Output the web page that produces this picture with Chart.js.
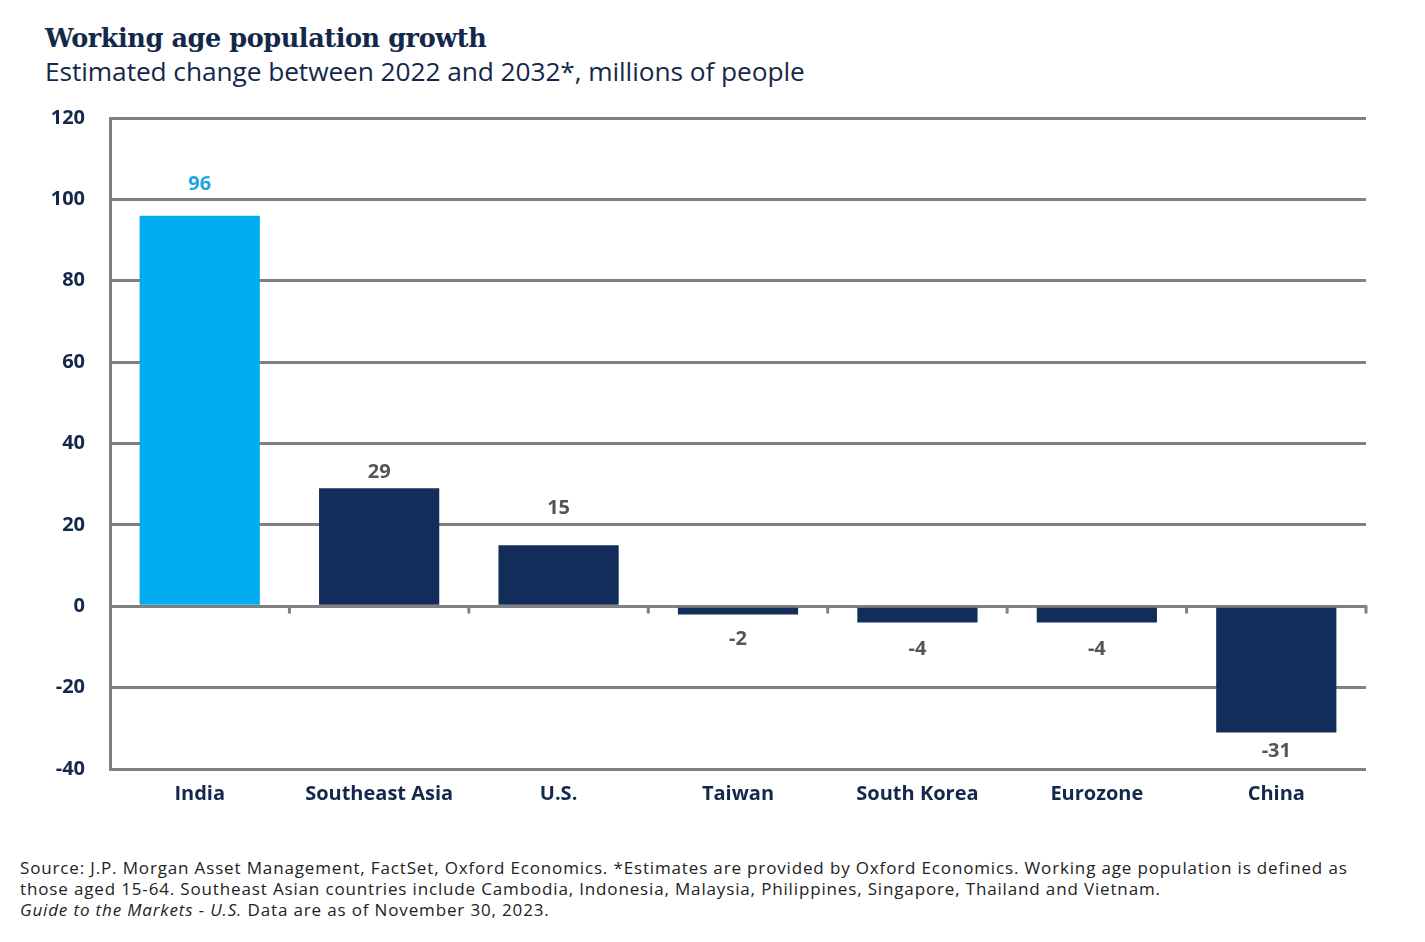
<!DOCTYPE html>
<html>
<head>
<meta charset="utf-8">
<script src="https://cdn.jsdelivr.net/npm/chart.js@4.4.1/dist/chart.umd.min.js"></script>
<style>
  html, body { margin: 0; padding: 0; background: #fff; }
  body { width: 1425px; height: 942px; position: relative; overflow: hidden; font-family: "Open Sans", Lato, sans-serif; }
  #title { position: absolute; left: 45px; top: 23px; font-family: "DejaVu Serif", serif; font-weight: bold; font-size: 25.5px; color: #14284b; letter-spacing: -0.4px; }
  #subtitle { position: absolute; left: 45px; top: 53px; font-size: 26.3px; color: #14284b; letter-spacing: -0.08px; }
  #chartBox { position: absolute; left: 0; top: 81px; width: 1425px; height: 739px; }
  #notes { position: absolute; left: 20px; top: 857px; font-size: 17px; line-height: 21px; color: #222; letter-spacing: 0.85px; white-space: nowrap; }
</style>
</head>
<body>
<div id="title">Working age population growth</div>
<div id="subtitle">Estimated change between 2022 and 2032*, millions of people</div>
<div id="chartBox"><canvas id="c"></canvas></div>
<div id="notes">
  Source: J.P. Morgan Asset Management, FactSet, Oxford Economics. *Estimates are provided by Oxford Economics. Working age population is defined as<br>
  those aged 15-64. Southeast Asian countries include Cambodia, Indonesia, Malaysia, Philippines, Singapore, Thailand and Vietnam.<br>
  <i>Guide to the Markets - U.S.</i> Data are as of November 30, 2023.
</div>
<script>
// data
const regions = ['India', 'Southeast Asia', 'U.S.', 'Taiwan', 'South Korea', 'Eurozone', 'China'];
const growth = [96, 29, 15, -2, -4, -4, -31];
const yTicks = [120, 100, 80, 60, 40, 20, 0, -20, -40];

const NAVY = '#132d5a';
const SKY = '#00aeef';
const GRID = '#808080';
const FONT = '"Open Sans", Lato, sans-serif';

// value labels + little tick marks under the zero line
const barLabels = {
  id: 'barLabels',
  afterDatasetsDraw(chart, args, opts) {
    const ctx = chart.ctx;
    const meta = chart.getDatasetMeta(0);
    const x = chart.scales.x, y = chart.scales.y;
    const y0 = y.getPixelForValue(0);
    ctx.save();
    // zero line ticks at category edges
    ctx.strokeStyle = GRID;
    ctx.lineWidth = 3;
    ctx.lineCap = 'round';
    const step = (x.right - x.left) / regions.length;
    for (let i = 1; i <= regions.length; i++) {
      const px = x.left + step * i;
      ctx.beginPath();
      ctx.moveTo(px, y0);
      ctx.lineTo(px, y0 + 6);
      ctx.stroke();
    }
    ctx.font = 'bold 20px ' + FONT;
    ctx.textAlign = 'center';
    ctx.textBaseline = 'middle';
    meta.data.forEach((bar, i) => {
      const v = growth[i];
      ctx.fillStyle = i === 0 ? '#1aa7e0' : '#555555';
      const off = opts.offsets[i];
      const py = v >= 0 ? bar.y - off : bar.y + off;
      ctx.fillText(String(v), bar.x, py);
    });
    ctx.restore();
  }
};

new Chart(document.getElementById('c'), {
  type: 'bar',
  data: {
    labels: regions,
    datasets: [{
      data: growth,
      backgroundColor: regions.map((r, i) => i === 0 ? SKY : NAVY),
      borderWidth: 0,
      barPercentage: 0.67,
      categoryPercentage: 1.0
    }]
  },
  options: {
    responsive: true,
    maintainAspectRatio: false,
    animation: false,
    layout: { padding: { left: 0, right: 59, top: 17, bottom: 0 } },
    plugins: {
      legend: { display: false },
      tooltip: { enabled: false },
      barLabels: { offsets: [31, 16, 37, 25, 27, 27, 19] }
    },
    scales: {
      x: {
        grid: { display: false },
        border: { display: false },
        ticks: { color: '#14284b', font: { family: FONT, weight: 'bold', size: 20 }, padding: 5 },
        afterFit(s) { s.height = 51; }
      },
      y: {
        min: -40,
        max: 120,
        afterBuildTicks(s) { s.ticks = yTicks.map(v => ({ value: v })); },
        grid: { color: GRID, lineWidth: 3, drawTicks: false },
        border: { display: true, color: GRID, width: 3 },
        ticks: { color: '#14284b', font: { family: FONT, weight: 'bold', size: 20 }, padding: 25 },
        afterFit(s) { s.width = 110; }
      }
    }
  },
  plugins: [barLabels]
});
</script>
</body>
</html>
